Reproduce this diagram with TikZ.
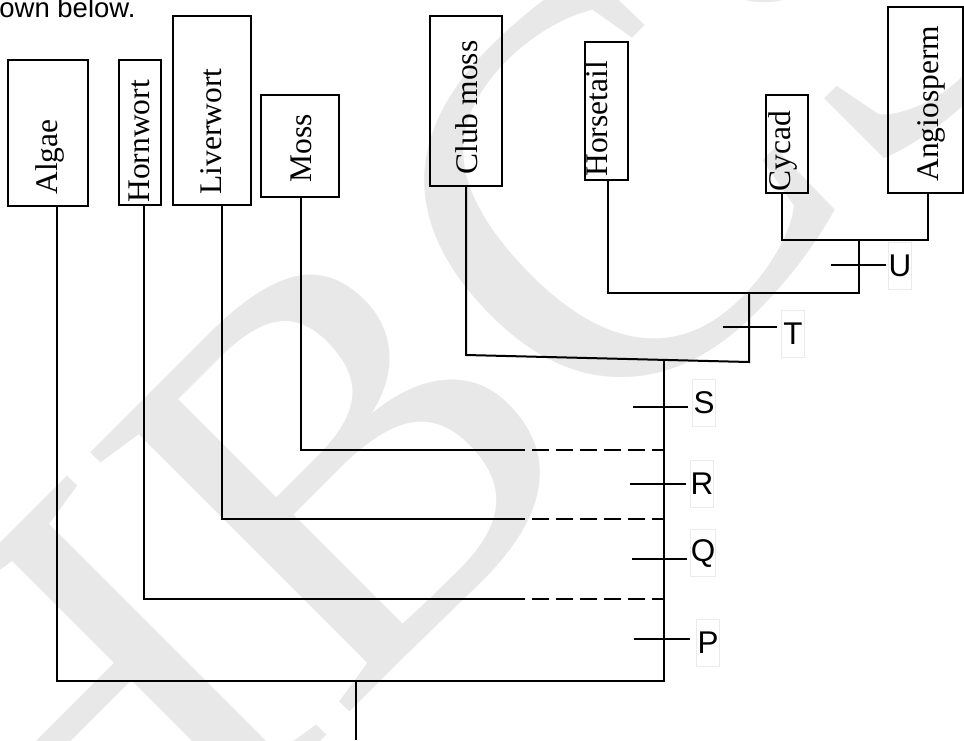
\documentclass[tikz,border=0pt]{standalone}
\usepackage{fontspec}
\setmainfont{Liberation Serif}
\newfontfamily\arialfont{Liberation Sans}
\usetikzlibrary{fit}

\tikzset{
  taxon/.style={draw=black, line width=1pt, inner sep=0pt},
  taxonname/.style={rotate=90, anchor=west, inner sep=0pt, font=\fontsize{15.75}{18}\selectfont},
  branch/.style={line width=1pt},
  gapline/.style={line width=1pt, dash pattern=on 8.5pt off 3.5pt},
  trait/.style={line width=1pt},
  tag/.style={draw=black!8, line width=0.5pt, inner sep=0pt, minimum width=11.5pt, minimum height=23.5pt, font=\arialfont\fontsize{15.7}{18}\selectfont},
  wmark/.style={text=black!9, inner sep=0pt, font=\fontsize{280}{280}\selectfont}
}

\begin{document}
\begin{tikzpicture}[x=0.5pt, y=-0.5pt]
  \useasboundingbox (0,0) rectangle (964,740);
  % watermark behind everything
  \node[wmark, rotate=45] (wm) at (441,363) {HBCS};
  % cut-off sentence at the top
  \node[anchor=base west, inner sep=0pt, font=\arialfont\fontsize{13.75}{16}\selectfont] (intro) at (-1,17) {own below.};

  % taxon boxes
  \node[taxon, fit={(8,60) (88,206)}] (algae) {};
  \node[taxon, fit={(119,60) (161,205)}] (hornwort) {};
  \node[taxon, fit={(173,16) (251,205)}] (liverwort) {};
  \node[taxon, fit={(261,95) (339,197)}] (moss) {};
  \node[taxon, fit={(430,16) (502,186)}] (clubmoss) {};
  \node[taxon, fit={(585,42) (628,180)}] (horsetail) {};
  \node[taxon, fit={(766,95) (808,193)}] (cycad) {};
  \node[taxon, fit={(888,7) (963,193)}] (angio) {};
  % names, reading upwards
  \node[taxonname] (algaeT) at (50,195) {Algae};
  \node[taxonname] (hornwortT) at (139.5,203) {Hornwort};
  \node[taxonname] (liverwortT) at (211,195) {Liverwort};
  \node[taxonname] (mossT) at (301,183) {Moss};
  \node[taxonname] (clubmossT) at (467,175) {Club moss};
  \node[taxonname] (horsetailT) at (597,177) {Horsetail};
  \node[taxonname] (cycadT) at (783,192) {Cycad};
  \node[taxonname] (angioT) at (931,182) {Angiosperm};

  % junctions
  \coordinate (root) at (356,681);
  \coordinate (rootEnd) at (356,740);
  \coordinate (spineBot) at (664,681);
  \coordinate (spineTop) at (664,360);
  \coordinate (alJ) at (57,681);
  \coordinate (hoJ) at (144,599);
  \coordinate (hoD) at (508,599);
  \coordinate (liJ) at (222,519);
  \coordinate (liD) at (508,519);
  \coordinate (moJ) at (301,450);
  \coordinate (moD) at (508,450);
  \coordinate (cmJ) at (466,355);
  \coordinate (tJ) at (749,362);
  \coordinate (tTop) at (749,293);
  \coordinate (htJ) at (608,293);
  \coordinate (uJ) at (859,293);
  \coordinate (uTop) at (859,240);
  \coordinate (cyJ) at (782,240);
  \coordinate (anJ) at (928,240);

  % root and main spine
  \draw[branch] (root) -- (rootEnd);
  \draw[branch] (algae.south -| alJ) -- (alJ) -- (spineBot) -- (spineTop);
  % hornwort, liverwort, moss (dashed ends)
  \draw[branch] (hornwort.south -| hoJ) -- (hoJ) -- (hoD);
  \draw[gapline] (hoD) -- (hoD -| spineBot);
  \draw[branch] (liverwort.south -| liJ) -- (liJ) -- (liD);
  \draw[gapline] (liD) -- (liD -| spineBot);
  \draw[branch] (moss.south -| moJ) -- (moJ) -- (moD);
  \draw[gapline] (moD) -- (moD -| spineBot);
  % vascular plants
  \draw[branch] (clubmoss.south -| cmJ) -- (cmJ) -- (tJ) -- (tTop);
  \draw[branch] (horsetail.south -| htJ) -- (htJ) -- (uJ) -- (uTop);
  \draw[branch] (cycad.south -| cyJ) -- (cyJ) -- (anJ) -- (angio.south -| anJ);

  % character marks
  \draw[trait] (634,639) -- (690,639);
  \node[tag] (P) at (708,643) {P};
  \draw[trait] (632,559) -- (687,559);
  \node[tag] (Q) at (703,553) {Q};
  \draw[trait] (630,484) -- (686,484);
  \node[tag] (R) at (702,484) {R};
  \draw[trait] (633,407) -- (688,407);
  \node[tag] (S) at (704,403) {S};
  \draw[trait] (723,327) -- (777,327);
  \node[tag] (T) at (793,334) {T};
  \draw[trait] (831,265) -- (886,265);
  \node[tag] (U) at (900,266) {U};
\end{tikzpicture}
\end{document}
